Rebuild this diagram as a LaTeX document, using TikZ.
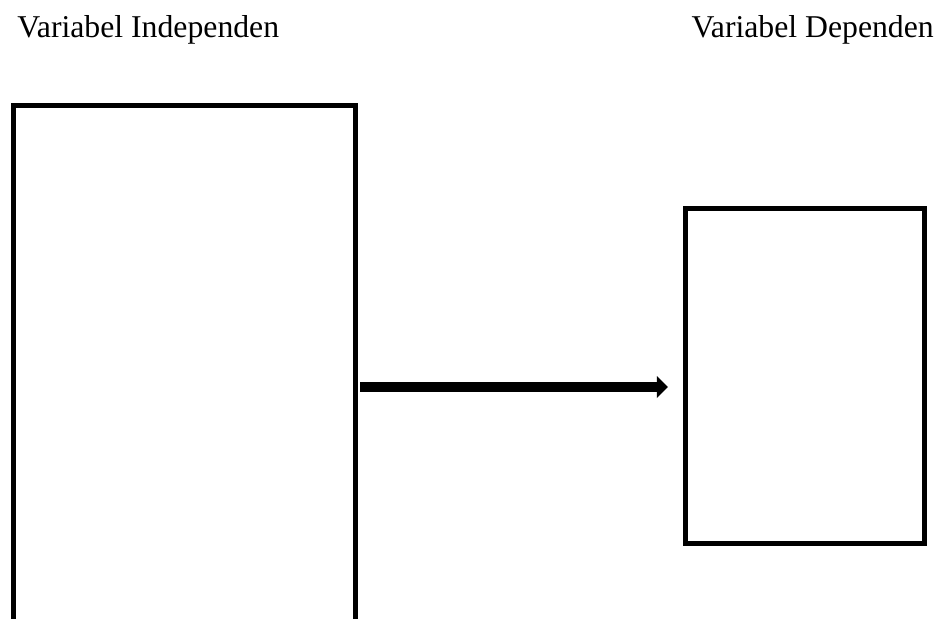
\documentclass[tikz,border=0pt]{standalone}
\usepackage{fontspec}
\setmainfont{Liberation Serif}
\usetikzlibrary{arrows.meta}
\begin{document}
\begin{tikzpicture}[x=0.75pt,y=-0.75pt,
  lbl/.style={inner sep=0pt,outer sep=0pt,anchor=base west,font=\fontsize{23.8pt}{28pt}\selectfont},
  varbox/.style={draw=black,line width=3.75pt,rectangle,inner sep=0pt,anchor=north west},
  arr/.style={line width=7.5pt,-{Triangle[length=8.25pt,width=16pt]}}]
\useasboundingbox (0,0) rectangle (943,618);
\clip (0,0) rectangle (943,618);
\fill[white] (0,0) rectangle (943,618);
\node[lbl] (tl) at (17.5,37) {Variabel Independen};
\node[lbl] (tr) at (691.5,37) {Variabel Dependen};
\node[varbox,minimum width=256.5pt,minimum height=420pt] (lb) at (10.5,102.5) {};
\node[varbox,minimum width=179.25pt,minimum height=251.25pt] (rb) at (682.5,205.5) {};
\coordinate (ay) at (0,387);
\draw[arr,shorten <=1.9pt,shorten >=10.9pt] (lb.east |- ay) -- (rb.west |- ay);
\end{tikzpicture}
\end{document}
